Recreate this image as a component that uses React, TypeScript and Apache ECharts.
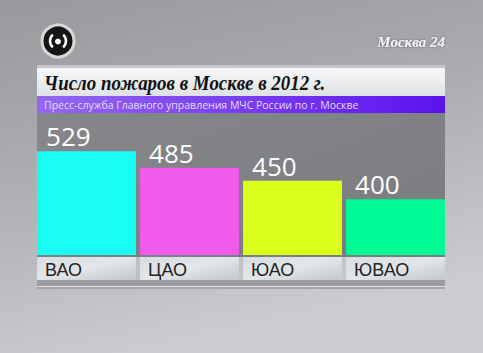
import React, { useEffect, useRef } from "react";
import * as echarts from "echarts";

const categories = ["ВАО", "ЦАО", "ЮАО", "ЮВАО"];
const fires = [529, 485, 450, 400];
const barColors = ["#1afdf5", "#f25aeb", "#dcff1e", "#00fa96"];
const titleText = "Число пожаров в Москве в 2012 г.";
const subtitleText = "Пресс-служба Главного управления МЧС России по г. Москве";
const channelText = "Москва 24";
const yMin = 250;
const yMax = 640;

export default function App() {
  const ref = useRef<HTMLDivElement>(null);
  useEffect(() => {
    if (!ref.current) return;
    const chart = echarts.init(ref.current, null, { renderer: "svg" });
    const option: any = {
      animation: false,
      backgroundColor: {
        type: "linear", x: 0, y: 0, x2: 0.3, y2: 1,
        colorStops: [
          { offset: 0, color: "#97999d" },
          { offset: 0.45, color: "#aaacb0" },
          { offset: 1, color: "#cbccd0" },
        ],
      },
      grid: { left: 35, right: 36, top: 110, bottom: 98 },
      xAxis: {
        type: "category",
        data: categories,
        axisLine: { show: false },
        axisTick: { show: false },
        axisLabel: { show: false },
        splitLine: { show: false },
      },
      yAxis: {
        type: "value",
        min: yMin,
        max: yMax,
        show: false,
        splitLine: { show: false },
      },
      graphic: [
        // chart panel
        { type: "rect", z: -10, shape: { x: 37, y: 113, width: 408, height: 144 },
          style: { fill: { type: "linear", x: 0, y: 0, x2: 1, y2: 1, colorStops: [
            { offset: 0, color: "#86878b" }, { offset: 1, color: "#7a7b7f" } ] } } },
        // title top border
        { type: "rect", z: -10, shape: { x: 37, y: 65, width: 408, height: 3 }, style: { fill: "#c4c6c9" } },
        // title bar
        { type: "rect", z: -10, shape: { x: 37, y: 68, width: 408, height: 28 },
          style: { fill: { type: "linear", x: 0, y: 0, x2: 0, y2: 1, colorStops: [
            { offset: 0, color: "#f6f7f8" }, { offset: 1, color: "#dfe2e4" } ] } } },
        // purple subtitle bar
        { type: "rect", z: -10, shape: { x: 37, y: 96, width: 408, height: 17 },
          style: { fill: { type: "linear", x: 0, y: 0, x2: 1, y2: 0, colorStops: [
            { offset: 0, color: "#9468f0" }, { offset: 1, color: "#5c12ee" } ] } } },
        // bottom strip
        { type: "rect", z: -10, shape: { x: 37, y: 280, width: 408, height: 6 }, style: { fill: "#9a9ca0" } },
        { type: "rect", z: -10, shape: { x: 37, y: 286, width: 408, height: 1 }, style: { fill: "#dcdde0" } },
        { type: "rect", z: -10, shape: { x: 37, y: 287, width: 408, height: 2 }, style: { fill: "#a2a4a8" } },
        // title text
        { type: "text", z: 10, x: 44, y: 82, scaleX: 0.86,
          style: { text: titleText, fill: "#111", font: "italic bold 22px 'Liberation Serif'", verticalAlign: "middle" } },
        { type: "text", z: 10, x: 44, y: 104.5,
          style: { text: subtitleText, fill: "#e6dcff", font: "10.5px 'Open Sans'", verticalAlign: "middle" } },
        // channel name
        { type: "text", z: 10, x: 445, y: 42,
          style: { text: channelText, fill: "#f4f4f6", font: "italic bold 15px 'Liberation Serif'",
            align: "right", verticalAlign: "middle", textShadowColor: "rgba(0,0,0,0.5)", textShadowBlur: 2 } },
        // logo
        { type: "circle", z: 10, shape: { cx: 58, cy: 41, r: 16 },
          style: { fill: "#151515", stroke: "#d8d8d8", lineWidth: 3 } },
        { type: "arc", z: 11, shape: { cx: 58, cy: 41, r: 8, startAngle: Math.PI * 0.72, endAngle: Math.PI * 1.28 },
          style: { stroke: "#ffffff", lineWidth: 2.5, fill: null } },
        { type: "arc", z: 11, shape: { cx: 58, cy: 41, r: 8, startAngle: -Math.PI * 0.28, endAngle: Math.PI * 0.28 },
          style: { stroke: "#ffffff", lineWidth: 2.5, fill: null } },
        { type: "circle", z: 11, shape: { cx: 58, cy: 41.5, r: 3 }, style: { fill: "#ffffff" } },
      ],
      series: [
        {
          type: "bar",
          data: fires.map((v, i) => ({ value: v, itemStyle: { color: barColors[i] } })),
          barCategoryGap: "4%",
          z: 2,
          label: {
            show: true,
            position: [9, -2],
            align: "left",
            verticalAlign: "bottom",
            color: "#ffffff",
            fontFamily: "Open Sans",
            fontSize: 26,
            fontWeight: "normal",
          },
        },
        {
          type: "custom",
          data: categories.map((_, i) => [i]),
          z: 3,
          renderItem: (params: any, api: any) => {
            const i = api.value(0);
            const p = api.coord([i, yMin]);
            const band = api.size([1, 0])[0];
            const bw = band * 0.96;
            const x = p[0] - bw / 2;
            const y = p[1] + 2;
            return {
              type: "group",
              children: [
                { type: "rect", shape: { x, y, width: bw, height: 23 },
                  style: { fill: { type: "linear", x: 0, y: 0, x2: 1, y2: 1, colorStops: [
                    { offset: 0, color: "#dadde0" }, { offset: 0.5, color: "#e3e6e8" }, { offset: 1, color: "#c3c6ca" } ] } } },
                { type: "text", x: x + 8, y: y + 12.5,
                  style: { text: categories[i], fill: "#222", font: "18px 'Liberation Sans'", verticalAlign: "middle" } },
              ],
            };
          },
        },
      ],
    };
    chart.setOption(option);
    return () => chart.dispose();
  }, []);
  return <div ref={ref} style={{ position: "fixed", left: 0, top: 0, width: 483, height: 353 }} />;
}
